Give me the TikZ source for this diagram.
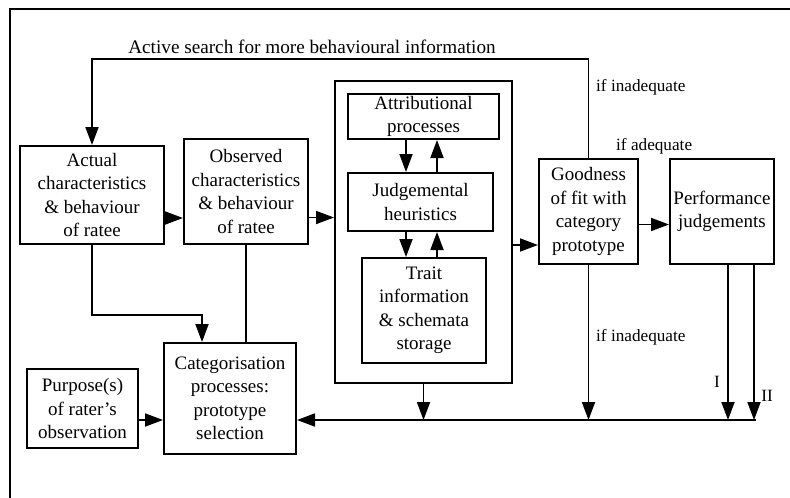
\documentclass[tikz,border=0pt]{standalone}
\usepackage{fontspec}
\setmainfont{Liberation Serif}
\usetikzlibrary{arrows.meta}
\begin{document}
\begin{tikzpicture}[x=1pt,y=-1pt,
  blk/.style={draw, line width=2pt, anchor=north west, inner sep=0pt, align=center,
    font=\fontsize{19}{23.5}\selectfont},
  lbl/.style={inner sep=0pt, font=\fontsize{17.2}{20}\selectfont},
  conn/.style={line width=1.8pt},
  arr/.style={conn, -{Triangle[length=18pt,width=13pt]}},
  frame/.style={line width=2pt}]
\useasboundingbox (0,0) rectangle (790,498);

% partial frame
\draw[frame] (790,8.5) -- (10,8.5) -- (10,498);

% boxes
\node[blk, minimum width=144pt, minimum height=98pt] (act) at (19,145)
  {Actual\\characteristics\\\& behaviour\\of ratee};
\node[blk, minimum width=124pt, minimum height=105pt] (obs) at (183,138)
  {Observed\\characteristics\\\& behaviour\\of ratee};
\node[blk, minimum width=177pt, minimum height=302pt] (outer) at (334,80) {};
\node[blk, minimum width=151pt, minimum height=45pt] (attr) at (347,93)
  {Attributional\\processes};
\node[blk, minimum width=145pt, minimum height=58pt] (judg) at (347,172)
  {Judgemental\\heuristics};
\node[blk, minimum width=124pt, minimum height=105pt] (trait) at (361,257)
  {Trait\\information\\\& schemata\\storage};
\node[blk, minimum width=99pt, minimum height=105pt] (good) at (538,158)
  {Goodness\\of fit with\\category\\prototype};
\node[blk, minimum width=104pt, minimum height=105pt] (perf) at (669,158)
  {Performance\\judgements};
\node[blk, minimum width=132pt, minimum height=111pt] (cat) at (163,342)
  {Categorisation\\processes:\\prototype\\selection};
\node[blk, minimum width=111pt, minimum height=79pt] (purp) at (26,368)
  {Purpose(s)\\of rater's\\observation};

% helper coordinates
\coordinate (fb) at (0,59);
\coordinate (bend) at (756,420);
\coordinate (c1) at (202,315);
\coordinate (d1) at (406,0);
\coordinate (u1) at (437,0);
\coordinate (p1) at ([xshift=6pt]perf.south);
\coordinate (p2) at ([xshift=32pt]perf.south);

% forward flow
\draw[arr] ([yshift=-23pt]act.east) -- ([yshift=-23pt]act.east -| obs.west);
\draw[arr] ([yshift=-26pt]obs.east) -- ([yshift=-26pt]obs.east -| outer.west);
\draw[arr] ([yshift=-13pt]outer.east) -- ([yshift=-13pt]outer.east -| good.west);
\draw[arr] ([yshift=-13pt]good.east) -- ([yshift=-13pt]good.east -| perf.west);

% inner loops
\draw[arr] (attr.south -| d1) -- (judg.north -| d1);
\draw[arr] (judg.north -| u1) -- (attr.south -| u1);
\draw[arr] (judg.south -| d1) -- (trait.north -| d1);
\draw[arr] (trait.north -| u1) -- (judg.south -| u1);

% feedback for more information
\draw[arr] (good.north) -- (good.north |- fb) -| (act.north);

% inputs to categorisation
\draw[arr] (act.south) |- (c1) -- (c1 |- cat.north);
\draw[conn] (obs.south) -- (obs.south |- cat.north);
\draw[arr] (purp.east |- bend) -- (cat.west |- bend);

% return line along the bottom
\draw[arr] (bend) -- (cat.east |- bend);
\draw[arr] (outer.south) -- (outer.south |- bend);
\draw[arr] (good.south) -- (good.south |- bend);
\draw[arr] (p1) -- (p1 |- bend);
\draw[arr] (p2) -- (p2 |- bend);

% labels
\node[lbl, font=\fontsize{19.2}{22}\selectfont] (search) at (312,47)
  {Active search for more behavioural information};
\node[lbl, anchor=west] (inadq1) at (596,87) {if inadequate};
\node[lbl, anchor=west] (adq) at (616,146) {if adequate};
\node[lbl, anchor=west] (inadq2) at (596,337) {if inadequate};
\node[lbl] (one) at (717,382) {I};
\node[lbl] (two) at (767,396) {II};
\end{tikzpicture}
\end{document}
